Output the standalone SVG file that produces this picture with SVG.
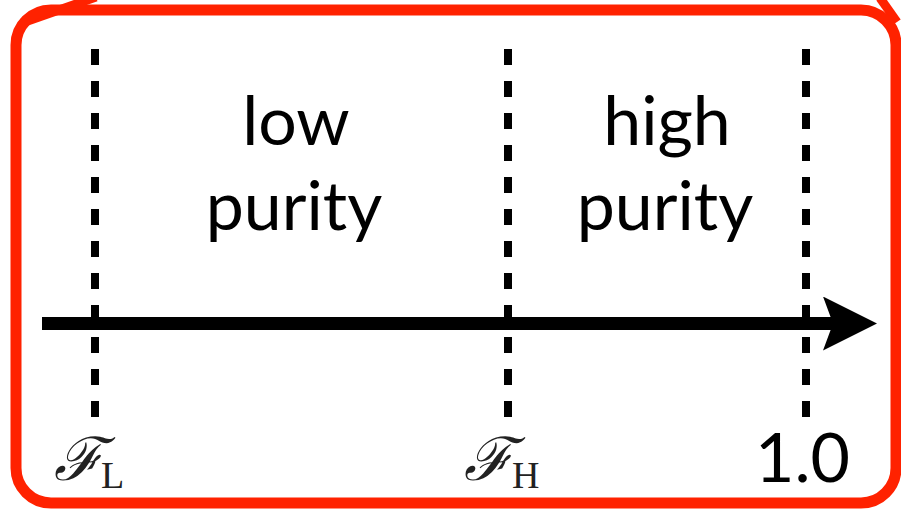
<svg xmlns="http://www.w3.org/2000/svg" width="901" height="513" viewBox="0 0 901 513">
<style>
.border{fill:none;stroke:#ff2200;stroke-width:11}
.tail{stroke:#ff2200;stroke-width:9;stroke-linecap:butt}
.dash{stroke:#000;stroke-width:8;stroke-dasharray:16 16}
.lbl{font-family:"Lato","Open Sans",sans-serif;font-size:68px;fill:#000;text-anchor:middle}
.cal{font-family:"DejaVu Serif","Liberation Serif",serif;font-style:italic;font-size:60px;fill:#222}
.sub{font-family:"Liberation Serif","DejaVu Serif",serif;font-size:38px;fill:#222}
</style>
<defs>
<marker id="ah" markerUnits="userSpaceOnUse" markerWidth="60" markerHeight="60" refX="10" refY="27" orient="auto">
<path d="M0,0 L54,27 L0,54 L10,27 Z" fill="#000"/>
</marker>
</defs>
<g id="frame">
<line class="tail" x1="22" y1="23" x2="96" y2="-3"/>
<line class="tail" x1="880" y1="-2" x2="897" y2="22"/>
<rect class="border" x="16" y="10" width="880" height="493" rx="35" ry="35"/>
</g>
<g id="connectors">
<line class="dash" x1="95" y1="49" x2="95" y2="418"/>
<line class="dash" x1="508" y1="49" x2="508" y2="418"/>
<line class="dash" x1="806" y1="49" x2="806" y2="418"/>
<line x1="42" y1="323.5" x2="833" y2="323.5" stroke="#000" stroke-width="13" marker-end="url(#ah)"/>
</g>
<g id="low">
<text class="lbl" x="296" y="145">low</text>
<text class="lbl" x="294" y="230">purity</text>
</g>
<g id="high">
<text class="lbl" x="667" y="145">high</text>
<text class="lbl" x="665" y="230">purity</text>
</g>
<g id="FL">
<text x="54" y="480"><tspan class="cal">ℱ</tspan><tspan class="sub" x="101" y="488">L</tspan></text>
</g>
<g id="FH">
<text x="464" y="480"><tspan class="cal">ℱ</tspan><tspan class="sub" x="512" y="488">H</tspan></text>
</g>
<g id="one">
<text class="lbl" x="850" y="482" style="text-anchor:end">1.0</text>
</g>
</svg>
